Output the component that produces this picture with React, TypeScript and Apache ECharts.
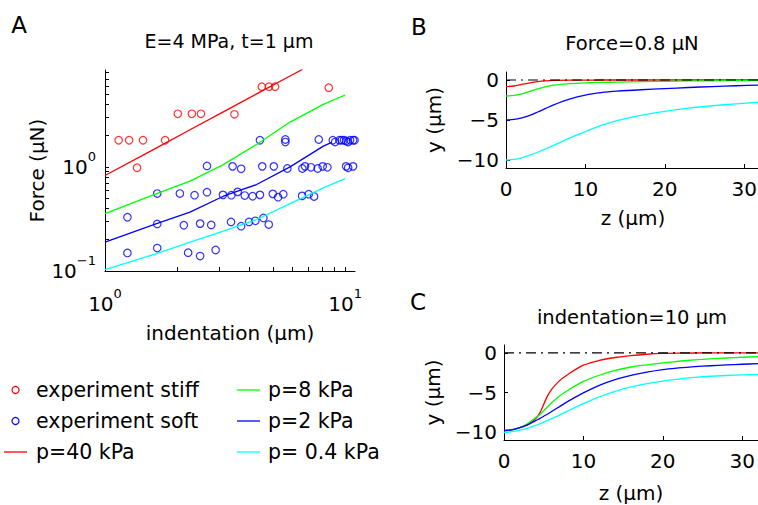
import React, { useEffect, useRef } from "react";
import * as echarts from "echarts";

const FONT = "'DejaVu Sans', 'Liberation Sans', Arial, sans-serif";

// ---------- Panel A data (log-log) ----------
const stiffX = [1.14, 1.26, 1.44, 1.78, 1.36, 2.01, 2.30, 2.51, 3.46, 4.50, 4.82, 5.11, 8.55];
const stiffY = [1.80, 1.80, 1.80, 1.80, 0.98, 3.23, 3.23, 3.23, 3.19, 5.88, 5.88, 5.88, 5.75];

const softX = [
  4.42, 5.64, 5.64, 7.77, 8.89, 9.09, 9.47, 9.68, 9.90, 10.1, 10.3, 10.5, 10.8, 10.95,
  2.66, 3.40, 3.69, 4.52, 5.05, 5.75, 6.64, 6.81, 7.21, 7.69, 8.07, 8.44, 10.1, 10.3, 10.8,
  1.65, 2.05, 2.36, 2.66, 3.10, 3.36, 3.57, 3.82, 4.12, 4.42, 5.00, 5.26, 5.53, 6.62, 7.06, 7.43,
  1.24, 1.65, 2.13, 2.49, 2.77, 3.35, 3.69, 3.98, 4.23, 4.57, 4.81,
  1.24, 1.65, 2.22, 2.49, 2.89,
];
const softY = [
  1.80, 1.83, 1.73, 1.83, 1.80, 1.73, 1.80, 1.80, 1.80, 1.77, 1.73, 1.80, 1.80, 1.80,
  1.02, 1.01, 0.957, 1.01, 1.01, 0.964, 0.964, 1.01, 0.99, 0.964, 1.01, 0.99, 1.01, 0.978, 1.01,
  0.554, 0.554, 0.534, 0.571, 0.538, 0.534, 0.575, 0.530, 0.522, 0.538, 0.550, 0.511, 0.546, 0.526, 0.546, 0.519,
  0.328, 0.283, 0.275, 0.285, 0.277, 0.296, 0.269, 0.296, 0.303, 0.323, 0.279,
  0.149, 0.166, 0.150, 0.139, 0.159,
];

const p40X = [1, 1.64, 2.26, 3.11, 4.28, 5.90, 6.64];
const p40Y = [0.826, 1.52, 2.27, 3.37, 5.01, 7.44, 8.6];
const fitX = [1, 1.64, 2.26, 3.11, 4.28, 5.90, 8.12, 10];
const p8Y = [0.356, 0.554, 0.728, 1.05, 1.64, 2.69, 3.97, 4.89];
const p2X = [1, 1.64, 2.26, 3.11, 4.28, 5.90, 8.12, 8.8];
const p2Y = [0.189, 0.285, 0.367, 0.522, 0.676, 1.0, 1.58, 1.72];
const p04Y = [0.103, 0.147, 0.189, 0.241, 0.312, 0.444, 0.628, 0.772];

const logTicksX = [1, 2, 3, 4, 5, 6, 7, 8, 9, 10];
const logTicksY = [0.1, 0.2, 0.3, 0.4, 0.5, 0.6, 0.7, 0.8, 0.9, 1, 2, 3, 4, 5, 6, 7, 8];

// ---------- Panel B data (Force = 0.8 uN) ----------
const zB = [0, 1, 2, 3, 4, 5, 6, 8, 10, 12, 14, 17, 20, 23, 26, 29, 32];
const bRed = [-0.83, -0.75, -0.55, -0.35, -0.2, -0.1, -0.05, -0.02, -0.01, 0, 0, 0, 0, 0, 0, 0, 0];
const bGreen = [-2.0, -1.93, -1.72, -1.42, -1.1, -0.85, -0.65, -0.45, -0.35, -0.3, -0.26, -0.2, -0.16, -0.12, -0.1, -0.08, -0.07];
const bBlue = [-5.0, -4.93, -4.72, -4.42, -4.0, -3.55, -3.1, -2.38, -1.88, -1.58, -1.4, -1.22, -1.08, -0.94, -0.82, -0.72, -0.62];
const bCyan = [-10.0, -9.93, -9.72, -9.4, -9.03, -8.62, -8.18, -7.26, -6.45, -5.68, -5.07, -4.42, -3.92, -3.52, -3.22, -2.98, -2.76];

// ---------- Panel C data (indentation = 10 um) ----------
const zC = [0, 1, 2, 3, 4, 4.5, 5, 5.5, 6, 7, 8, 10, 12, 14, 16, 18, 20, 22, 24, 26, 28, 30, 32];
const cRed = [-9.75, -9.7, -9.45, -9.05, -8.3, -7.6, -6.5, -5.4, -4.6, -3.5, -2.75, -1.55, -0.95, -0.58, -0.33, -0.17, -0.07, -0.03, -0.01, 0, 0, 0, 0];
const cGreen = [-9.83, -9.72, -9.42, -8.93, -8.15, -7.8, -7.3, -6.8, -6.3, -5.45, -4.75, -3.6, -2.82, -2.2, -1.78, -1.5, -1.26, -1.05, -0.88, -0.75, -0.64, -0.55, -0.48];
const cBlue = [-9.83, -9.72, -9.45, -9.05, -8.55, -8.3, -8.0, -7.72, -7.4, -6.78, -6.15, -5.05, -4.1, -3.38, -2.85, -2.42, -2.1, -1.9, -1.74, -1.62, -1.52, -1.43, -1.36];
const cCyan = [-10.08, -9.95, -9.75, -9.5, -9.15, -8.95, -8.75, -8.53, -8.3, -7.85, -7.35, -6.4, -5.55, -4.85, -4.3, -3.88, -3.55, -3.3, -3.1, -2.95, -2.85, -2.77, -2.7];

const zeroLineZ = [0, 32];
const zeroLineY = [0, 0];

const yTicksBC = [-10, -5, 0];

const RED = "#ff0000";
const GREEN = "#00ff00";
const BLUE = "#0000ff";
const CYAN = "#00ffff";

const zip = (xs: number[], ys: number[]) => xs.map((x, i) => [x, ys[i]]);

const axisLineStyle = { show: true, onZero: false, lineStyle: { color: "#000", width: 1 } };
const tickStyle = { show: true, inside: true, length: 4, lineStyle: { color: "#000", width: 1 } };
const labelFont = { fontFamily: FONT, fontSize: 20, color: "#000" };

const logLabel = (margin: number) => ({
  ...labelFont,
  margin,
  showMaxLabel: false,
  formatter: (v: number) => {
    const e = Math.round(Math.log10(v));
    const s = e < 0 ? "\u2212" + Math.abs(e) : String(e);
    return `{b|10}{s|${s}}`;
  },
  rich: {
    b: { fontFamily: FONT, fontSize: 20, lineHeight: 34, color: "#000", verticalAlign: "middle" },
    s: { fontFamily: FONT, fontSize: 13, lineHeight: 14, color: "#000", verticalAlign: "top" },
  },
});

const minusFmt = (v: number) => String(v).replace("-", "\u2212");

const nameStyle = { fontFamily: FONT, fontSize: 20, color: "#000" };

function buildOption() {
  const lineSeries = (
    name: string,
    xs: number[],
    ys: number[],
    color: string,
    idx: number,
    extra: any = {}
  ) => ({
    name,
    type: "line",
    xAxisIndex: idx,
    yAxisIndex: idx,
    data: zip(xs, ys),
    symbol: "none",
    clip: true,
    lineStyle: { color, width: 1.3, ...(extra.lineStyle || {}) },
    itemStyle: { color },
    ...(extra.smooth !== undefined ? { smooth: extra.smooth } : {}),
  });

  const txt = (text: string, x: number, y: number, size = 20, rotation = 0) => ({
    type: "text",
    x,
    y,
    rotation,
    style: {
      text,
      fontFamily: FONT,
      fontSize: size,
      fill: "#000",
      align: "center",
      verticalAlign: "middle",
    },
  });

  const legendCircle = (x: number, y: number, color: string) => ({
    type: "circle",
    shape: { cx: x, cy: y, r: 3.5 },
    style: { fill: "none", stroke: color, lineWidth: 1.2 },
  });
  const legendLine = (x1: number, x2: number, y: number, color: string) => ({
    type: "line",
    shape: { x1, y1: y, x2, y2: y },
    style: { stroke: color, lineWidth: 1.3 },
  });
  const legendText = (text: string, x: number, y: number) => ({
    type: "text",
    x,
    y,
    style: { text, fontFamily: FONT, fontSize: 20.5, fill: "#000", align: "left", verticalAlign: "middle" },
  });

  return {
    animation: false,
    backgroundColor: "#fff",
    grid: [
      { left: 105, top: 70, width: 250, height: 201, outerBoundsMode: "none", containLabel: false },
      { left: 506, top: 72, width: 254, height: 96, outerBoundsMode: "none", containLabel: false },
      { left: 504, top: 345, width: 254, height: 95, outerBoundsMode: "none", containLabel: false },
    ],
    xAxis: [
      {
        gridIndex: 0,
        type: "log",
        logBase: 10,
        min: 1,
        max: 11,
        axisLine: axisLineStyle,
        axisTick: { ...tickStyle, customValues: logTicksX },
        axisLabel: logLabel(16),
        splitLine: { show: false },
        name: "indentation (\u03bcm)",
        nameLocation: "middle",
        nameGap: 52,
        nameTextStyle: nameStyle,
      },
      {
        gridIndex: 1,
        type: "value",
        min: 0,
        max: 32,
        interval: 10,
        axisLine: axisLineStyle,
        axisTick: tickStyle,
        axisLabel: { ...labelFont, margin: 11, showMaxLabel: false },
        splitLine: { show: false },
        name: "z (\u03bcm)",
        nameLocation: "middle",
        nameGap: 40,
        nameTextStyle: nameStyle,
      },
      {
        gridIndex: 2,
        type: "value",
        min: 0,
        max: 32,
        interval: 10,
        axisLine: axisLineStyle,
        axisTick: tickStyle,
        axisLabel: { ...labelFont, margin: 11, showMaxLabel: false },
        splitLine: { show: false },
        name: "z (\u03bcm)",
        nameLocation: "middle",
        nameGap: 43,
        nameTextStyle: nameStyle,
      },
    ],
    yAxis: [
      {
        gridIndex: 0,
        type: "log",
        logBase: 10,
        min: 0.1,
        max: 8.5,
        axisLine: axisLineStyle,
        axisTick: { ...tickStyle, customValues: logTicksY },
        axisLabel: logLabel(9),
        splitLine: { show: false },
        name: "Force (\u03bcN)",
        nameLocation: "middle",
        nameGap: 56,
        nameTextStyle: nameStyle,
      },
      {
        gridIndex: 1,
        type: "value",
        min: -11,
        max: 1,
        axisLine: axisLineStyle,
        axisTick: { ...tickStyle, customValues: yTicksBC },
        axisLabel: { ...labelFont, margin: 7, customValues: yTicksBC, formatter: minusFmt },
        splitLine: { show: false },
        name: "y (\u03bcm)",
        nameLocation: "middle",
        nameGap: 62,
        nameTextStyle: nameStyle,
      },
      {
        gridIndex: 2,
        type: "value",
        min: -11,
        max: 1,
        axisLine: axisLineStyle,
        axisTick: { ...tickStyle, customValues: yTicksBC },
        axisLabel: { ...labelFont, margin: 7, customValues: yTicksBC, formatter: minusFmt },
        splitLine: { show: false },
        name: "y (\u03bcm)",
        nameLocation: "middle",
        nameGap: 61,
        nameTextStyle: nameStyle,
      },
    ],
    series: [
      {
        name: "experiment stiff",
        type: "scatter",
        xAxisIndex: 0,
        yAxisIndex: 0,
        data: zip(stiffX, stiffY),
        symbol: "circle",
        symbolSize: 7.5,
        itemStyle: { color: "rgba(0,0,0,0)", borderColor: RED, borderWidth: 1.2 },
      },
      {
        name: "experiment soft",
        type: "scatter",
        xAxisIndex: 0,
        yAxisIndex: 0,
        data: zip(softX, softY),
        symbol: "circle",
        symbolSize: 7.5,
        itemStyle: { color: "rgba(0,0,0,0)", borderColor: BLUE, borderWidth: 1.2 },
      },
      lineSeries("p=40 kPa", p40X, p40Y, RED, 0),
      lineSeries("p=8 kPa", fitX, p8Y, GREEN, 0),
      lineSeries("p=2 kPa", p2X, p2Y, BLUE, 0),
      lineSeries("p= 0.4 kPa", fitX, p04Y, CYAN, 0),

      lineSeries("B p=40 kPa", zB, bRed, RED, 1, { smooth: 0.3 }),
      lineSeries("B p=8 kPa", zB, bGreen, GREEN, 1, { smooth: 0.3 }),
      lineSeries("B p=2 kPa", zB, bBlue, BLUE, 1, { smooth: 0.3 }),
      lineSeries("B p=0.4 kPa", zB, bCyan, CYAN, 1, { smooth: 0.3 }),
      lineSeries("B zero", zeroLineZ, zeroLineY, "#000", 1, {
        lineStyle: { type: [10, 5, 2, 5], width: 1.1 },
      }),

      lineSeries("C p=40 kPa", zC, cRed, RED, 2, { smooth: 0.3 }),
      lineSeries("C p=8 kPa", zC, cGreen, GREEN, 2, { smooth: 0.3 }),
      lineSeries("C p=2 kPa", zC, cBlue, BLUE, 2, { smooth: 0.3 }),
      lineSeries("C p=0.4 kPa", zC, cCyan, CYAN, 2, { smooth: 0.3 }),
      lineSeries("C zero", zeroLineZ, zeroLineY, "#000", 2, {
        lineStyle: { type: [10, 5, 2, 5], width: 1.1 },
      }),
    ],
    graphic: [
      txt("A", 19, 25, 23),
      txt("B", 419, 27, 23),
      txt("C", 418, 302, 23),
      txt("E=4 MPa, t=1 \u03bcm", 229, 41, 19),
      txt("Force=0.8 \u03bcN", 632, 43, 19.5),
      txt("indentation=10 \u03bcm", 632, 317, 19.5),
      legendCircle(15.5, 390, RED),
      legendText("experiment stiff", 36, 390),
      legendCircle(15.5, 421, BLUE),
      legendText("experiment soft", 36, 421),
      legendLine(4, 27, 452, RED),
      legendText("p=40 kPa", 36, 452),
      legendLine(237, 260, 390, GREEN),
      legendText("p=8 kPa", 268, 390),
      legendLine(237, 260, 421, BLUE),
      legendText("p=2 kPa", 268, 421),
      legendLine(237, 260, 452, CYAN),
      legendText("p= 0.4 kPa", 268, 452),
    ],
  };
}

export default function App() {
  const ref = useRef<HTMLDivElement>(null);
  useEffect(() => {
    document.body.style.margin = "0";
    if (!ref.current) return;
    const chart = echarts.init(ref.current, undefined, { renderer: "svg" });
    chart.setOption(buildOption() as any);
    return () => chart.dispose();
  }, []);
  return <div ref={ref} style={{ width: 758, height: 505, overflow: "hidden" }} />;
}
